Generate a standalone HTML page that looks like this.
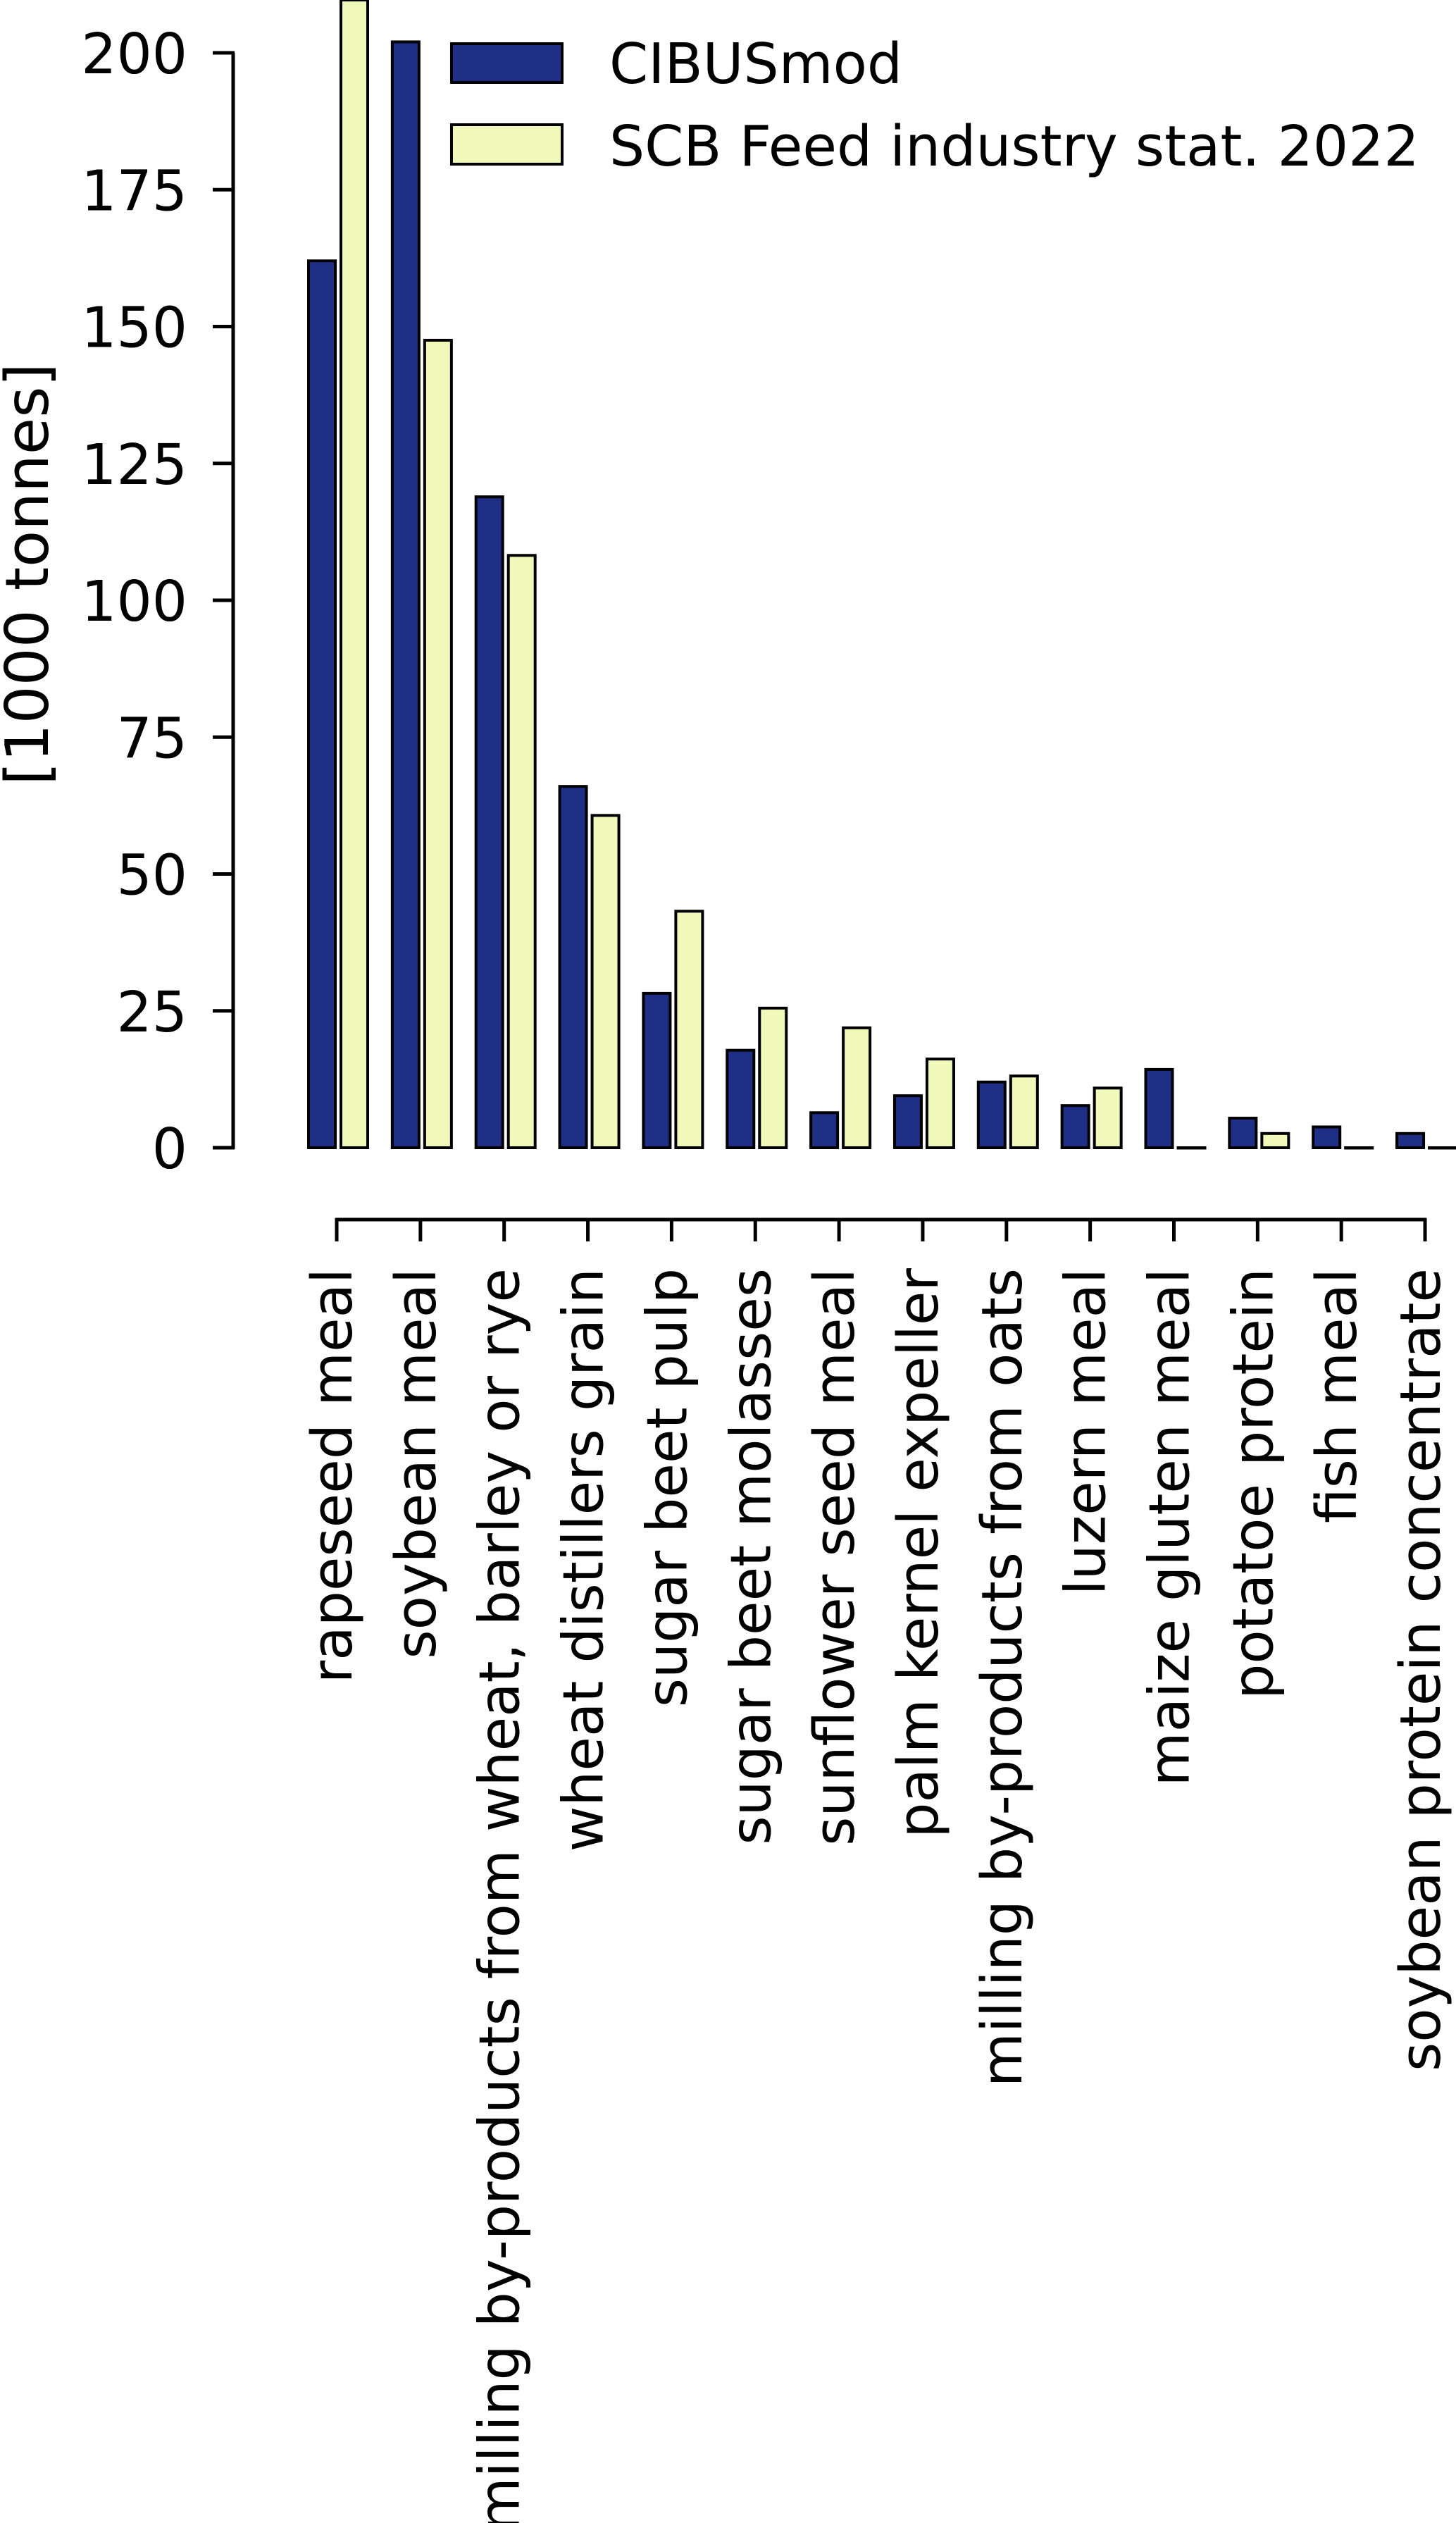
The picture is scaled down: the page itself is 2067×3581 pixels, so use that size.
<!DOCTYPE html>
<html><head><meta charset="utf-8"><style>
html,body{margin:0;padding:0;background:#fff;}
svg{display:block;font-family:"DejaVu Sans","Liberation Sans",sans-serif;}
</style></head><body>
<svg id="chart" width="2067" height="3581" viewBox="0 0 2067 3581" xmlns="http://www.w3.org/2000/svg">
<g id="bars"></g>
<g id="yaxis"></g>
<g id="xaxis"></g>
<text transform="translate(68,815) rotate(-90)" text-anchor="middle" font-size="85">[1000 tonnes]</text>
<g>
<rect x="641" y="62" width="157" height="55" fill="#202f86" stroke="#000" stroke-width="4"/>
<text x="865" y="118" font-size="79">CIBUSmod</text>
<rect x="641" y="177" width="157" height="56" fill="#f0f9ba" stroke="#000" stroke-width="4"/>
<text x="865" y="235" font-size="79">SCB Feed industry stat. 2022</text>
</g>
</svg>
<script>
const categories = ["rapeseed meal","soybean meal","milling by-products from wheat, barley or rye","wheat distillers grain","sugar beet pulp","sugar beet molasses","sunflower seed meal","palm kernel expeller","milling by-products from oats","luzern meal","maize gluten meal","potatoe protein","fish meal","soybean protein concentrate"];
const cibusValues = [162, 202, 118.9, 66, 28.2, 17.8, 6.4, 9.5, 12, 7.7, 14.3, 5.4, 3.8, 2.6];
const scbValues = [210.5, 147.5, 108.2, 60.7, 43.2, 25.5, 21.9, 16.2, 13.1, 10.9, 0, 2.6, 0, 0];
const yTicks = [0, 25, 50, 75, 100, 125, 150, 175, 200];

const NS = "http://www.w3.org/2000/svg";
const y0 = 1629, pxPerUnit = 7.77;
function yScale(v){ return y0 - v * pxPerUnit; }
function xScale(i){ return 478 + i * 118.85; }

const bars = document.getElementById('bars');
function bar(x, v, fill, name){
  const top = Math.max(yScale(v), 0);
  const r = document.createElementNS(NS, 'rect');
  r.setAttribute('x', x); r.setAttribute('y', top);
  r.setAttribute('width', 38); r.setAttribute('height', Math.max(y0 - top, 0.5));
  r.setAttribute('fill', fill); r.setAttribute('stroke', '#000'); r.setAttribute('stroke-width', 4);
  
  
  bars.appendChild(r);
}
categories.forEach((c, i) => {
  const cx = xScale(i);
  bar(cx - 40, cibusValues[i], '#202f86', 'bar-cibusmod');
  bar(cx + 6, scbValues[i], '#f0f9ba', 'bar-scb');
});

const ya = document.getElementById('yaxis');
const sp = document.createElementNS(NS, 'line');
sp.setAttribute('x1', 331); sp.setAttribute('x2', 331);
sp.setAttribute('y1', yScale(200)); sp.setAttribute('y2', y0 + 2);
sp.setAttribute('stroke', '#000'); sp.setAttribute('stroke-width', 5);


ya.appendChild(sp);
yTicks.forEach(t => {
  const y = yScale(t);
  const l = document.createElementNS(NS, 'line');
  l.setAttribute('x1', 302); l.setAttribute('x2', 333); l.setAttribute('y1', y); l.setAttribute('y2', y);
  l.setAttribute('stroke', '#000'); l.setAttribute('stroke-width', 5);
  
  
  ya.appendChild(l);
  const tx = document.createElementNS(NS, 'text');
  tx.setAttribute('x', 266); tx.setAttribute('y', y + 29);
  tx.setAttribute('text-anchor', 'end'); tx.setAttribute('font-size', 79);
  tx.textContent = t;
  
  
  ya.appendChild(tx);
});

const xa = document.getElementById('xaxis');
const xs = document.createElementNS(NS, 'line');
xs.setAttribute('x1', xScale(0) - 2); xs.setAttribute('x2', xScale(categories.length - 1) + 2);
xs.setAttribute('y1', 1731); xs.setAttribute('y2', 1731);
xs.setAttribute('stroke', '#000'); xs.setAttribute('stroke-width', 5);


xa.appendChild(xs);
categories.forEach((c, i) => {
  const x = xScale(i);
  const l = document.createElementNS(NS, 'line');
  l.setAttribute('x1', x); l.setAttribute('x2', x); l.setAttribute('y1', 1729); l.setAttribute('y2', 1762);
  l.setAttribute('stroke', '#000'); l.setAttribute('stroke-width', 5);
  
  
  xa.appendChild(l);
  const tx = document.createElementNS(NS, 'text');
  tx.setAttribute('transform', 'translate(' + (x + 21) + ',1800) rotate(-90)');
  tx.setAttribute('text-anchor', 'end'); tx.setAttribute('font-size', 79);
  tx.textContent = c;
  
  
  xa.appendChild(tx);
});
</script>
</body></html>
